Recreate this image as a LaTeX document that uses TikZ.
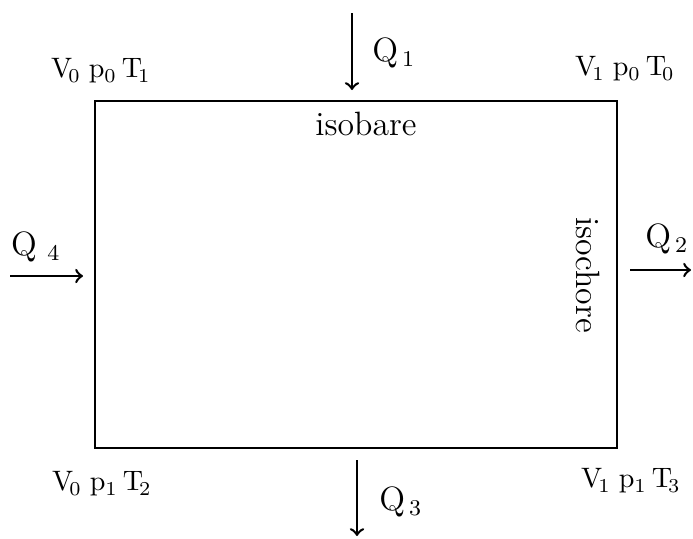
\documentclass[tikz,border=0pt]{standalone}
\usepackage{tikz}
\usetikzlibrary{positioning, calc}

\begin{document}
\begin{tikzpicture}[
        x=0.0125cm, y=-0.0125cm, % <--- pixel grid of the scan
        font=\large,
        >=to,
        % Define the style for the state labels and heat flows
        statelabel/.style={inner sep=1pt, font=\normalsize},
        heatlabel/.style={inner sep=1pt},
        heatarrow/.style={->, line width=0.9pt}
    ]

        \useasboundingbox (0,0) rectangle (693,538);

        % ==========================
        % CYCLE BOX
        % ==========================
        \coordinate (nw) at (95, 101);
        \coordinate (ne) at (617, 101);
        \coordinate (sw) at (95, 448);
        \coordinate (se) at (617, 448);
        \draw[line width=1pt] (nw) -- (ne) -- (se) -- (sw) -- cycle;

        \node (isobare) at (366, 124) {isobare};
        \node[rotate=-90] (isochore) at (588, 275) {isochore};

        % ==========================
        % STATES
        % ==========================
        \node[statelabel] (s1) at (101, 71)  {$\mathrm{V}_{\!0}\;\mathrm{p}_0\,\mathrm{T}_{\!1}$};
        \node[statelabel] (s0) at (625, 69)  {$\mathrm{V}_{\!1}\;\mathrm{p}_0\,\mathrm{T}_{\!0}$};
        \node[statelabel] (s2) at (102, 484) {$\mathrm{V}_{\!0}\;\mathrm{p}_1\,\mathrm{T}_{\!2}$};
        \node[statelabel] (s3) at (631, 481) {$\mathrm{V}_{\!1}\;\mathrm{p}_1\,\mathrm{T}_{\!3}$};

        % ==========================
        % HEAT FLOWS
        % ==========================
        \coordinate (q1a) at (352, 13);
        \coordinate (q1b) at (352, 90);
        \draw[heatarrow] (q1a) -- (q1b);
        \node[heatlabel] (q1) at (394, 53) {$\mathrm{Q}_{\,1}$};

        \coordinate (q2a) at (630, 270);
        \coordinate (q2b) at (691, 270);
        \draw[heatarrow] (q2a) -- (q2b);
        \node[heatlabel] (q2) at (667, 239) {$\mathrm{Q}_{\,2}$};

        \coordinate (q3a) at (357, 460);
        \coordinate (q3b) at (357, 536);
        \draw[heatarrow] (q3a) -- (q3b);
        \node[heatlabel] (q3) at (401, 502) {$\mathrm{Q}_{\,3}$};

        \coordinate (q4a) at (10, 276);
        \coordinate (q4b) at (83, 276);
        \draw[heatarrow] (q4a) -- (q4b);
        \node[heatlabel] (q4) at (36, 247) {$\mathrm{Q}_{\;\,4}$};

\end{tikzpicture}
\end{document}
